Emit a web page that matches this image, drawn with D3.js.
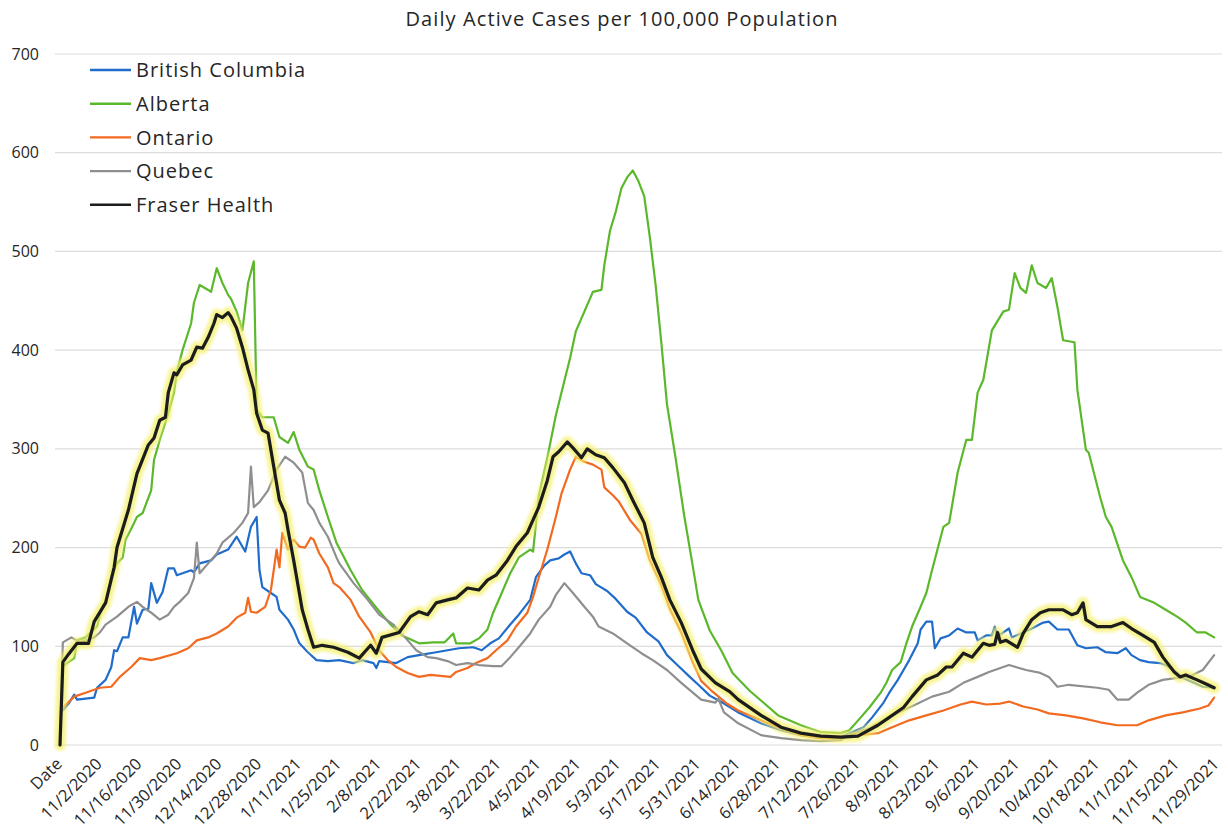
<!DOCTYPE html>
<html>
<head>
<meta charset="utf-8">
<script src="https://cdn.jsdelivr.net/npm/d3@7"></script>
<style>
  html, body { margin: 0; padding: 0; background: #ffffff; }
  svg { display: block; }
  text { font-family: "Open Sans", "Noto Sans", sans-serif; fill: #262626; }
</style>
</head>
<body>
<svg id="chart" width="1228" height="837"></svg>
<script>
// ---------------- DATA ----------------
const chartTitle = "Daily Active Cases per 100,000 Population";

// category labels shown every 14 days (day index 0 = "Date" header category)
const xTickLabels = ["Date","11/2/2020","11/16/2020","11/30/2020","12/14/2020","12/28/2020",
  "1/11/2021","1/25/2021","2/8/2021","2/22/2021","3/8/2021","3/22/2021","4/5/2021","4/19/2021",
  "5/3/2021","5/17/2021","5/31/2021","6/14/2021","6/28/2021","7/12/2021","7/26/2021","8/9/2021",
  "8/23/2021","9/6/2021","9/20/2021","10/4/2021","10/18/2021","11/1/2021","11/15/2021","11/29/2021"];
const xTickStep = 14;
const lastDay = 406;

const yTicks = [0, 100, 200, 300, 400, 500, 600, 700];

const seriesNames = ["British Columbia", "Alberta", "Ontario", "Quebec", "Fraser Health"];

// [day index, active cases per 100,000]
const britishColumbia = [[1,35],[3,42],[5,51],[6,46],[12,48],[13,58],[16,66],[18,79],[19,96],[20,95],[22,109],[24,109],[26,140],[27,123],[29,137],[31,138],[32,164],[34,144],[36,155],[38,179],[40,179],[41,172],[46,177],[47,175],[49,184],[53,187],[55,193],[59,198],[62,211],[65,196],[67,221],[69,231],[70,177],[71,160],[74,154],[76,150],[77,137],[80,127],[82,117],[84,103],[87,94],[90,86],[94,85],[98,86],[103,83],[106,86],[110,83],[111,78],[112,85],[118,83],[122,89],[126,91],[132,94],[136,96],[140,98],[145,99],[148,96],[151,103],[154,108],[158,122],[161,132],[165,147],[167,170],[170,182],[172,187],[175,189],[177,193],[179,196],[181,184],[183,174],[186,172],[188,163],[192,156],[195,148],[199,135],[202,129],[206,114],[210,105],[213,91],[217,80],[221,69],[224,61],[228,50],[233,42],[238,33],[246,22],[253,15],[260,10],[267,7],[274,8],[277,12],[282,18],[285,28],[289,43],[291,53],[294,66],[296,76],[298,86],[301,103],[302,117],[304,125],[306,125],[307,98],[309,108],[312,111],[315,118],[318,114],[321,114],[322,106],[325,111],[327,111],[328,120],[329,110],[333,118],[334,109],[338,114],[341,118],[345,124],[347,125],[350,117],[354,117],[357,101],[360,98],[364,99],[367,94],[371,93],[374,98],[376,91],[379,86],[382,84],[386,83],[388,81],[392,73],[394,68],[398,63],[401,59],[405,58]];

const alberta = [[0,0],[1,80],[3,84],[5,88],[6,106],[9,109],[13,120],[15,142],[16,145],[18,170],[20,184],[22,190],[23,208],[26,225],[27,231],[29,235],[32,258],[33,289],[35,309],[38,336],[40,357],[41,378],[43,400],[46,427],[47,448],[49,466],[52,461],[53,459],[55,483],[57,468],[59,456],[60,452],[62,439],[64,420],[66,468],[68,490],[69,340],[71,332],[75,332],[77,312],[80,306],[82,317],[84,299],[87,282],[89,279],[91,258],[94,231],[97,205],[102,177],[106,157],[111,139],[116,122],[120,111],[126,103],[131,104],[135,104],[138,113],[139,103],[144,103],[147,108],[150,117],[152,134],[155,154],[158,174],[161,190],[165,198],[166,196],[168,252],[171,291],[174,334],[177,369],[179,392],[181,419],[184,439],[187,459],[190,461],[191,486],[193,521],[195,540],[197,564],[199,575],[201,582],[203,571],[205,556],[207,514],[209,466],[211,408],[213,345],[216,291],[219,233],[222,182],[224,147],[228,116],[232,96],[236,73],[242,55],[252,30],[260,20],[267,13],[274,12],[277,15],[281,28],[284,38],[288,53],[290,63],[292,76],[295,84],[297,103],[299,120],[302,140],[304,154],[306,177],[310,221],[312,225],[315,276],[318,309],[320,309],[322,357],[324,370],[327,420],[331,439],[333,441],[335,478],[337,463],[339,458],[341,486],[343,468],[346,463],[348,473],[350,444],[352,410],[356,408],[357,360],[360,299],[361,296],[365,251],[367,231],[369,221],[373,187],[376,170],[379,150],[384,144],[388,137],[392,130],[395,124],[399,114],[402,114],[405,109]];

const ontario = [[1,38],[5,49],[9,53],[14,58],[18,59],[21,69],[25,79],[28,88],[32,86],[35,88],[41,93],[45,98],[48,106],[52,109],[55,113],[59,120],[62,129],[65,134],[66,149],[67,135],[69,134],[72,140],[74,157],[75,177],[76,198],[77,180],[78,215],[80,198],[81,205],[82,208],[84,201],[86,200],[88,210],[89,208],[91,194],[94,180],[96,164],[98,160],[102,147],[105,130],[109,114],[112,96],[115,86],[118,79],[122,73],[126,69],[130,71],[137,69],[139,74],[143,78],[146,83],[150,88],[153,96],[157,106],[160,120],[164,134],[166,150],[167,160],[171,198],[174,231],[176,255],[179,279],[181,292],[184,287],[187,284],[190,279],[191,261],[194,253],[196,247],[200,228],[204,214],[207,187],[211,162],[214,138],[218,114],[222,84],[225,65],[229,54],[234,42],[238,35],[246,25],[253,17],[260,10],[267,7],[274,7],[277,9],[287,12],[292,18],[298,25],[304,30],[310,35],[316,41],[320,44],[325,41],[330,42],[333,44],[338,39],[343,36],[347,32],[353,30],[359,27],[365,23],[371,20],[378,20],[382,25],[388,30],[394,33],[400,37],[403,40],[405,48]];

const quebec = [[0,0],[1,104],[4,109],[7,104],[12,109],[14,114],[16,122],[20,130],[24,140],[27,145],[29,140],[32,134],[35,127],[38,132],[40,140],[42,145],[45,154],[47,169],[48,205],[49,174],[52,184],[55,194],[57,205],[61,215],[64,225],[66,235],[67,282],[68,241],[70,246],[73,258],[74,265],[76,279],[79,292],[82,286],[85,276],[87,245],[89,238],[91,225],[94,211],[97,190],[98,184],[103,164],[108,147],[112,132],[117,122],[122,106],[125,96],[129,89],[132,88],[136,85],[139,81],[143,83],[147,81],[152,80],[155,80],[158,89],[161,99],[165,113],[168,127],[172,140],[174,152],[177,164],[180,154],[184,140],[187,130],[189,120],[194,113],[199,103],[204,93],[208,86],[213,76],[218,63],[225,46],[230,43],[231,47],[233,33],[238,22],[246,10],[253,7],[260,5],[267,4],[274,5],[277,10],[284,17],[289,25],[295,34],[301,42],[306,49],[312,54],[317,63],[322,69],[326,74],[331,79],[333,81],[339,76],[344,73],[347,69],[350,59],[354,61],[364,58],[368,56],[371,46],[375,46],[378,53],[382,61],[387,66],[392,68],[396,69],[401,76],[405,91]];

const fraserHealth = [[0,0],[1,84],[3,92],[6,103],[10,103],[12,125],[16,144],[19,180],[20,200],[24,238],[27,275],[31,304],[33,311],[35,329],[37,332],[38,357],[40,377],[41,375],[43,385],[46,390],[48,403],[50,402],[52,413],[54,427],[55,436],[57,433],[59,438],[60,434],[62,422],[64,403],[66,380],[68,360],[69,336],[71,319],[73,316],[75,282],[77,248],[79,235],[80,218],[82,187],[85,137],[87,117],[89,99],[92,101],[96,99],[101,94],[105,88],[109,101],[111,93],[113,109],[119,114],[123,130],[126,135],[129,132],[132,144],[136,147],[139,149],[143,159],[147,157],[150,167],[153,172],[157,187],[160,201],[164,215],[166,228],[168,241],[171,268],[173,292],[175,297],[178,307],[180,301],[183,291],[185,300],[188,294],[191,291],[194,281],[198,266],[201,248],[205,225],[208,190],[211,170],[214,147],[218,124],[222,96],[225,77],[230,63],[235,54],[238,46],[246,30],[253,18],[260,12],[267,9],[274,8],[280,9],[287,20],[291,28],[296,38],[299,49],[304,66],[308,71],[311,79],[313,79],[317,93],[320,89],[324,103],[326,101],[328,102],[329,114],[330,104],[332,106],[336,99],[338,113],[341,127],[344,134],[347,137],[352,137],[355,132],[357,134],[359,144],[360,127],[364,120],[369,120],[373,124],[376,118],[380,111],[384,104],[387,89],[391,74],[393,69],[395,71],[399,66],[402,62],[405,58]];

// ---------------- DRAW ----------------
const seriesData = [britishColumbia, alberta, ontario, quebec, fraserHealth];
const colors = ["#1f6ccb", "#5cb82b", "#f26a1f", "#8f8f8f", "#1c1c1c"];
const widths = [2.2, 2.2, 2.2, 2.2, 3.2];

const svg = d3.select("#chart");
const x = d3.scaleLinear().domain([0, lastDay]).range([60, 1217]);
const y = d3.scaleLinear().domain([0, 700]).range([745, 54]);

// title
svg.append("text").attr("x", 622).attr("y", 26).attr("text-anchor", "middle")
  .style("font-size", "20px").style("letter-spacing", "1.1px").text(chartTitle);

// gridlines
svg.append("g").selectAll("line").data(yTicks).join("line")
  .attr("x1", 55).attr("x2", 1222)
  .attr("y1", d => y(d)).attr("y2", d => y(d))
  .attr("stroke", "#dcdcdc").attr("stroke-width", 1.2);

// y labels
svg.append("g").selectAll("text").data(yTicks).join("text")
  .attr("x", 39).attr("y", d => y(d)).attr("dy", "0.35em")
  .attr("text-anchor", "end").style("font-size", "16px").text(d => d);

// x labels
svg.append("g").selectAll("text").data(xTickLabels).join("text")
  .attr("text-anchor", "end")
  .attr("transform", (d, i) => `translate(${x(i * xTickStep) + 3},${765}) rotate(-45)`)
  .style("font-size", "16.5px").text(d => d);

const line = d3.line().x(d => x(d[0])).y(d => y(d[1]));

// soft glow filter for highlighter
const defs = svg.append("defs");
defs.append("filter").attr("id", "soft").append("feGaussianBlur").attr("stdDeviation", 1.2);

const g = svg.append("g").attr("fill", "none").attr("stroke-linejoin", "round").attr("stroke-linecap", "round");
for (let i = 0; i < 4; i++) {
  g.append("path").datum(seriesData[i]).attr("d", line)
    .attr("stroke", colors[i]).attr("stroke-width", widths[i]);
}
// yellow highlighter behind Fraser Health
g.append("path").datum(fraserHealth).attr("d", line)
  .attr("stroke", "#f7f27a").attr("stroke-width", 13).attr("opacity", 0.5).attr("filter", "url(#soft)");
g.append("path").datum(fraserHealth).attr("d", line)
  .attr("stroke", "#f1ec55").attr("stroke-width", 8).attr("opacity", 0.45).attr("filter", "url(#soft)");
g.append("path").datum(fraserHealth).attr("d", line)
  .attr("stroke", colors[4]).attr("stroke-width", widths[4]);

// legend
const lg = svg.append("g");
seriesNames.forEach((name, i) => {
  const yy = 70 + i * 33.7;
  lg.append("line").attr("x1", 90).attr("x2", 131).attr("y1", yy).attr("y2", yy)
    .attr("stroke", colors[i]).attr("stroke-width", 2.4);
  lg.append("text").attr("x", 136).attr("y", yy).attr("dy", "0.36em")
    .style("font-size", "20px").style("letter-spacing", "1px").text(name);
});
</script>
</body>
</html>
